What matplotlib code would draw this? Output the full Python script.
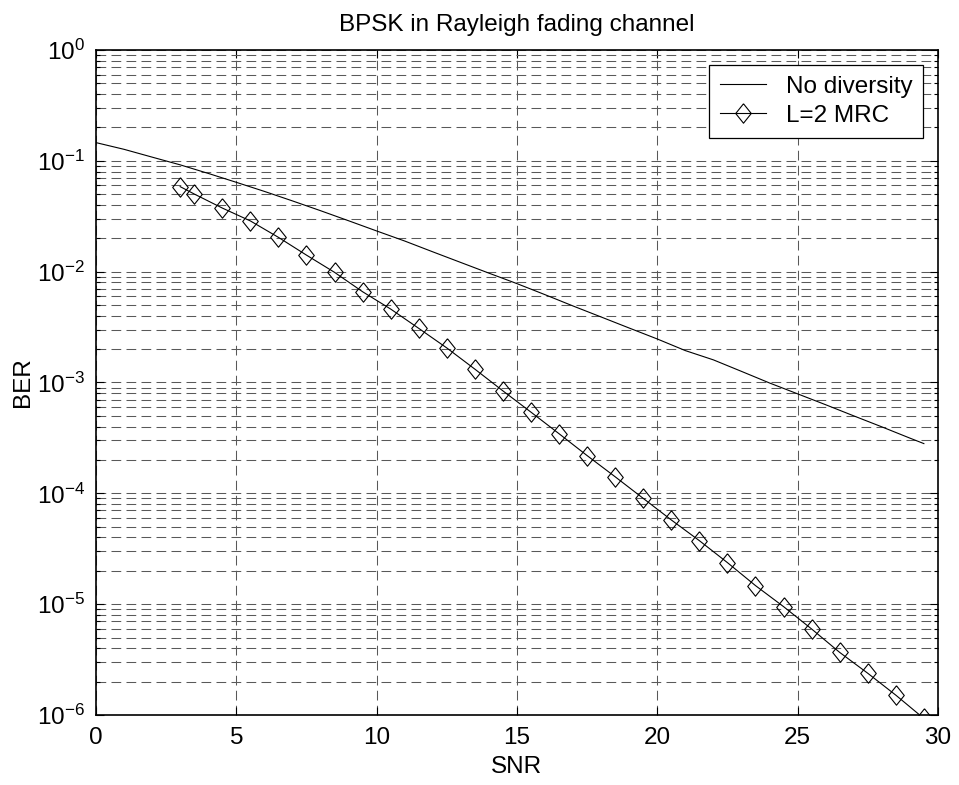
import math
import matplotlib
matplotlib.use("Agg")
from matplotlib import pyplot as plt
from matplotlib.ticker import LogLocator, FixedLocator, FuncFormatter, NullFormatter

# no diversity curve
nodiv_snr = [0, 1, 2, 3, 4, 5, 6, 7, 8, 9, 10, 11, 12, 13, 14, 15, 16, 17, 18, 19,
             20, 21, 22, 23, 24, 25, 26, 27, 28, 29, 29.5]
nodiv_ber = [0.146, 0.127, 0.108, 0.092, 0.077, 0.064, 0.053, 0.0435, 0.0355, 0.0288,
             0.0233, 0.0189, 0.0151, 0.0121, 0.0097, 0.0078, 0.0062, 0.0049, 0.0039, 0.0031,
             0.00247, 0.00194, 0.00160, 0.00126, 0.00099, 0.00079, 0.00063, 0.000500,
             0.000398, 0.000315, 0.000281]

# L=2 MRC points
mrc_snr = [3, 3.5, 4.5, 5.5, 6.5, 7.5, 8.5, 9.5, 10.5, 11.5, 12.5, 13.5, 14.5, 15.5,
           16.5, 17.5, 18.5, 19.5, 20.5, 21.5, 22.5, 23.5, 24.5, 25.5, 26.5, 27.5, 28.5, 29.5]
mrc_ber = [0.0585, 0.0502, 0.0375, 0.0287, 0.0204, 0.0141, 0.00986, 0.00659, 0.00460,
           0.00308, 0.00205, 0.00132, 8.4e-4, 5.4e-4, 3.45e-4, 2.19e-4, 1.41e-4, 9.0e-5,
           5.75e-5, 3.74e-5, 2.37e-5, 1.47e-5, 9.5e-6, 5.97e-6, 3.67e-6, 2.38e-6, 1.51e-6, 9.3e-7]

x_ticks = [0, 5, 10, 15, 20, 25, 30]
legend_labels = ["No diversity", "L=2 MRC"]

plt.rcParams['font.family'] = ['Liberation Sans', 'DejaVu Sans']
plt.rcParams['mathtext.fontset'] = 'custom'
plt.rcParams['mathtext.rm'] = 'Liberation Sans'
plt.rcParams['mathtext.it'] = 'Liberation Sans'
plt.rcParams['lines.scale_dashes'] = False

fs = 17.5
fig = plt.figure(figsize=(9.59, 7.85), dpi=100)
ax = fig.add_axes([0.1001, 0.0892, 0.978 - 0.1001, 0.9363 - 0.0892])

# MATLAB-ish diamond, a bit taller than wide
diamond = [(0, 1), (0.8, 0), (0, -1), (-0.8, 0), (0, 1)]

ax.semilogy(nodiv_snr, nodiv_ber, color='black', linewidth=0.8, label=legend_labels[0])
ax.semilogy(mrc_snr, mrc_ber, color='black', linewidth=0.8, marker=diamond,
            markersize=14, markerfacecolor='none', markeredgecolor='black',
            markeredgewidth=0.8, label=legend_labels[1])

ax.set_xlim(0, 30)
ax.set_ylim(1e-6, 1)
ax.xaxis.set_major_locator(FixedLocator(x_ticks))
ax.xaxis.set_minor_formatter(NullFormatter())
ax.yaxis.set_major_locator(LogLocator(base=10, numticks=10))
ax.yaxis.set_minor_locator(LogLocator(base=10, subs=range(2, 10), numticks=20))
ax.yaxis.set_minor_formatter(NullFormatter())
ax.yaxis.set_major_formatter(FuncFormatter(lambda v, p: r'$\mathregular{10^{%d}}$' % round(math.log10(v))))
ax.yaxis.get_offset_text().set_visible(False)
ax.xaxis.get_offset_text().set_visible(False)

grid_style = dict(color='0.35', linewidth=0.75, linestyle=(0, (7.0, 3.8)))
ax.grid(True, which='major', axis='both', **grid_style)
ax.grid(True, which='minor', axis='y', **grid_style)

ax.tick_params(which='both', direction='in', top=True, right=True, labelsize=fs, width=0.8)
ax.tick_params(which='major', length=6)
ax.tick_params(which='minor', length=3)
ax.tick_params(axis='x', pad=9)
ax.tick_params(axis='y', pad=8)
for s in ax.spines.values():
    s.set_linewidth(1.2)

ax.set_title("BPSK in Rayleigh fading channel", fontsize=fs, pad=14)
ax.set_xlabel("SNR", fontsize=fs, labelpad=5)
ax.set_ylabel("BER", fontsize=fs, labelpad=2)

leg = ax.legend(loc='upper right', fontsize=fs, fancybox=False, framealpha=1,
                edgecolor='black', borderaxespad=0.6, handlelength=1.9,
                handletextpad=0.8, labelspacing=0.3, borderpad=0.45)
leg.get_frame().set_linewidth(0.9)

fig.savefig("out.png", dpi=100)
